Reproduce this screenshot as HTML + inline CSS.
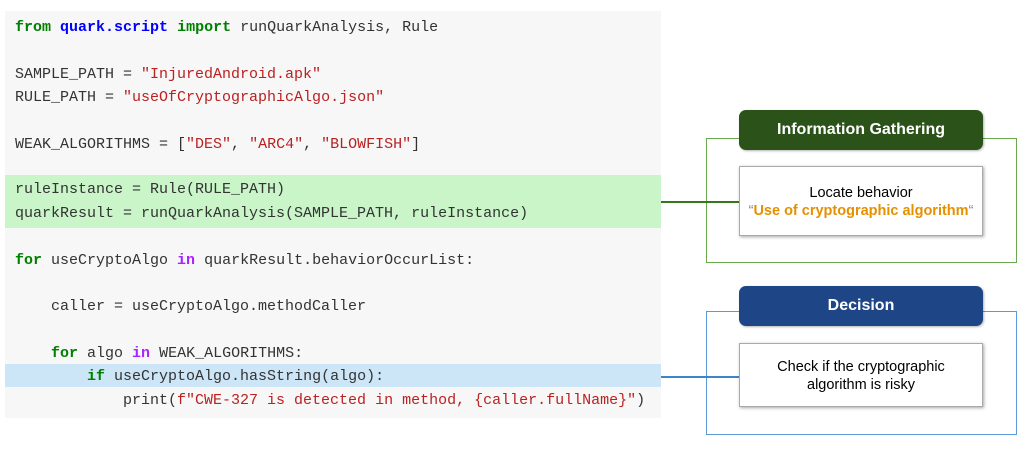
<!DOCTYPE html>
<html><head><style>
body{margin:0;width:1036px;height:449px;background:#fff;position:relative;overflow:hidden;font-family:"Liberation Sans",sans-serif}
.code{position:absolute;left:5px;top:11px;width:656px;height:407px;background:#f7f7f7}
.hl{position:absolute;left:5px;width:656px}
.l{position:absolute;left:15px;font-family:"Liberation Mono",monospace;font-size:15px;color:#333;white-space:pre;line-height:18px}
.k{color:#008000;font-weight:bold}.m{color:#0000ff;font-weight:bold}.s{color:#ba2121}.p{color:#aa22ff;font-weight:bold}
.box{position:absolute;box-sizing:border-box}
.hd{position:absolute;left:739px;width:244px;height:40px;border-radius:7px;color:#fff;font-weight:bold;font-size:16px;text-align:center;line-height:40px;box-shadow:1px 1px 2px rgba(0,0,0,.3)}
.in{position:absolute;left:739px;width:244px;background:#fff;border:1px solid #aaa;box-shadow:1px 1px 3px rgba(0,0,0,.35);text-align:center;font-size:14.5px;color:#000;box-sizing:border-box}
</style></head><body>
<div class="code"></div>
<div class="hl" style="top:175px;height:53px;background:#c9f5c9"></div>
<div class="hl" style="top:364px;height:23px;background:#cce5f7"></div>
<div class="l" style="top:19px"><span class="k">from</span> <span class="m">quark.script</span> <span class="k">import</span> runQuarkAnalysis, Rule</div>
<div class="l" style="top:66px">SAMPLE_PATH = <span class="s">"InjuredAndroid.apk"</span></div>
<div class="l" style="top:89px">RULE_PATH = <span class="s">"useOfCryptographicAlgo.json"</span></div>
<div class="l" style="top:136px">WEAK_ALGORITHMS = [<span class="s">"DES"</span>, <span class="s">"ARC4"</span>, <span class="s">"BLOWFISH"</span>]</div>
<div class="l" style="top:181px">ruleInstance = Rule(RULE_PATH)</div>
<div class="l" style="top:205px">quarkResult = runQuarkAnalysis(SAMPLE_PATH, ruleInstance)</div>
<div class="l" style="top:252px"><span class="k">for</span> useCryptoAlgo <span class="p">in</span> quarkResult.behaviorOccurList:</div>
<div class="l" style="top:298px">    caller = useCryptoAlgo.methodCaller</div>
<div class="l" style="top:345px">    <span class="k">for</span> algo <span class="p">in</span> WEAK_ALGORITHMS:</div>
<div class="l" style="top:368px">        <span class="k">if</span> useCryptoAlgo.hasString(algo):</div>
<div class="l" style="top:392px">            print(<span class="s">f"CWE-327 is detected in method, {caller.fullName}"</span>)</div>

<div class="box" style="left:706px;top:138px;width:311px;height:125px;border:1.5px solid #6aa84f"></div>
<div class="box" style="left:661px;top:201px;width:78px;height:1.5px;background:#38761d"></div>
<div class="hd" style="top:110px;background:#2a5219">Information Gathering</div>
<div class="in" style="top:166px;height:70px;padding-top:17px;line-height:18px">Locate behavior<br><span style="color:#888">“</span><b style="color:#e69000">Use of cryptographic algorithm</b><span style="color:#888">“</span></div>

<div class="box" style="left:706px;top:311px;width:311px;height:124px;border:1.5px solid #5b9bd5"></div>
<div class="box" style="left:661px;top:376px;width:78px;height:1.5px;background:#3d85c6"></div>
<div class="hd" style="top:286px;background:#1e4586">Decision</div>
<div class="in" style="top:343px;height:64px;padding-top:14px;line-height:18px">Check if the cryptographic<br>algorithm is risky</div>
</body></html>
